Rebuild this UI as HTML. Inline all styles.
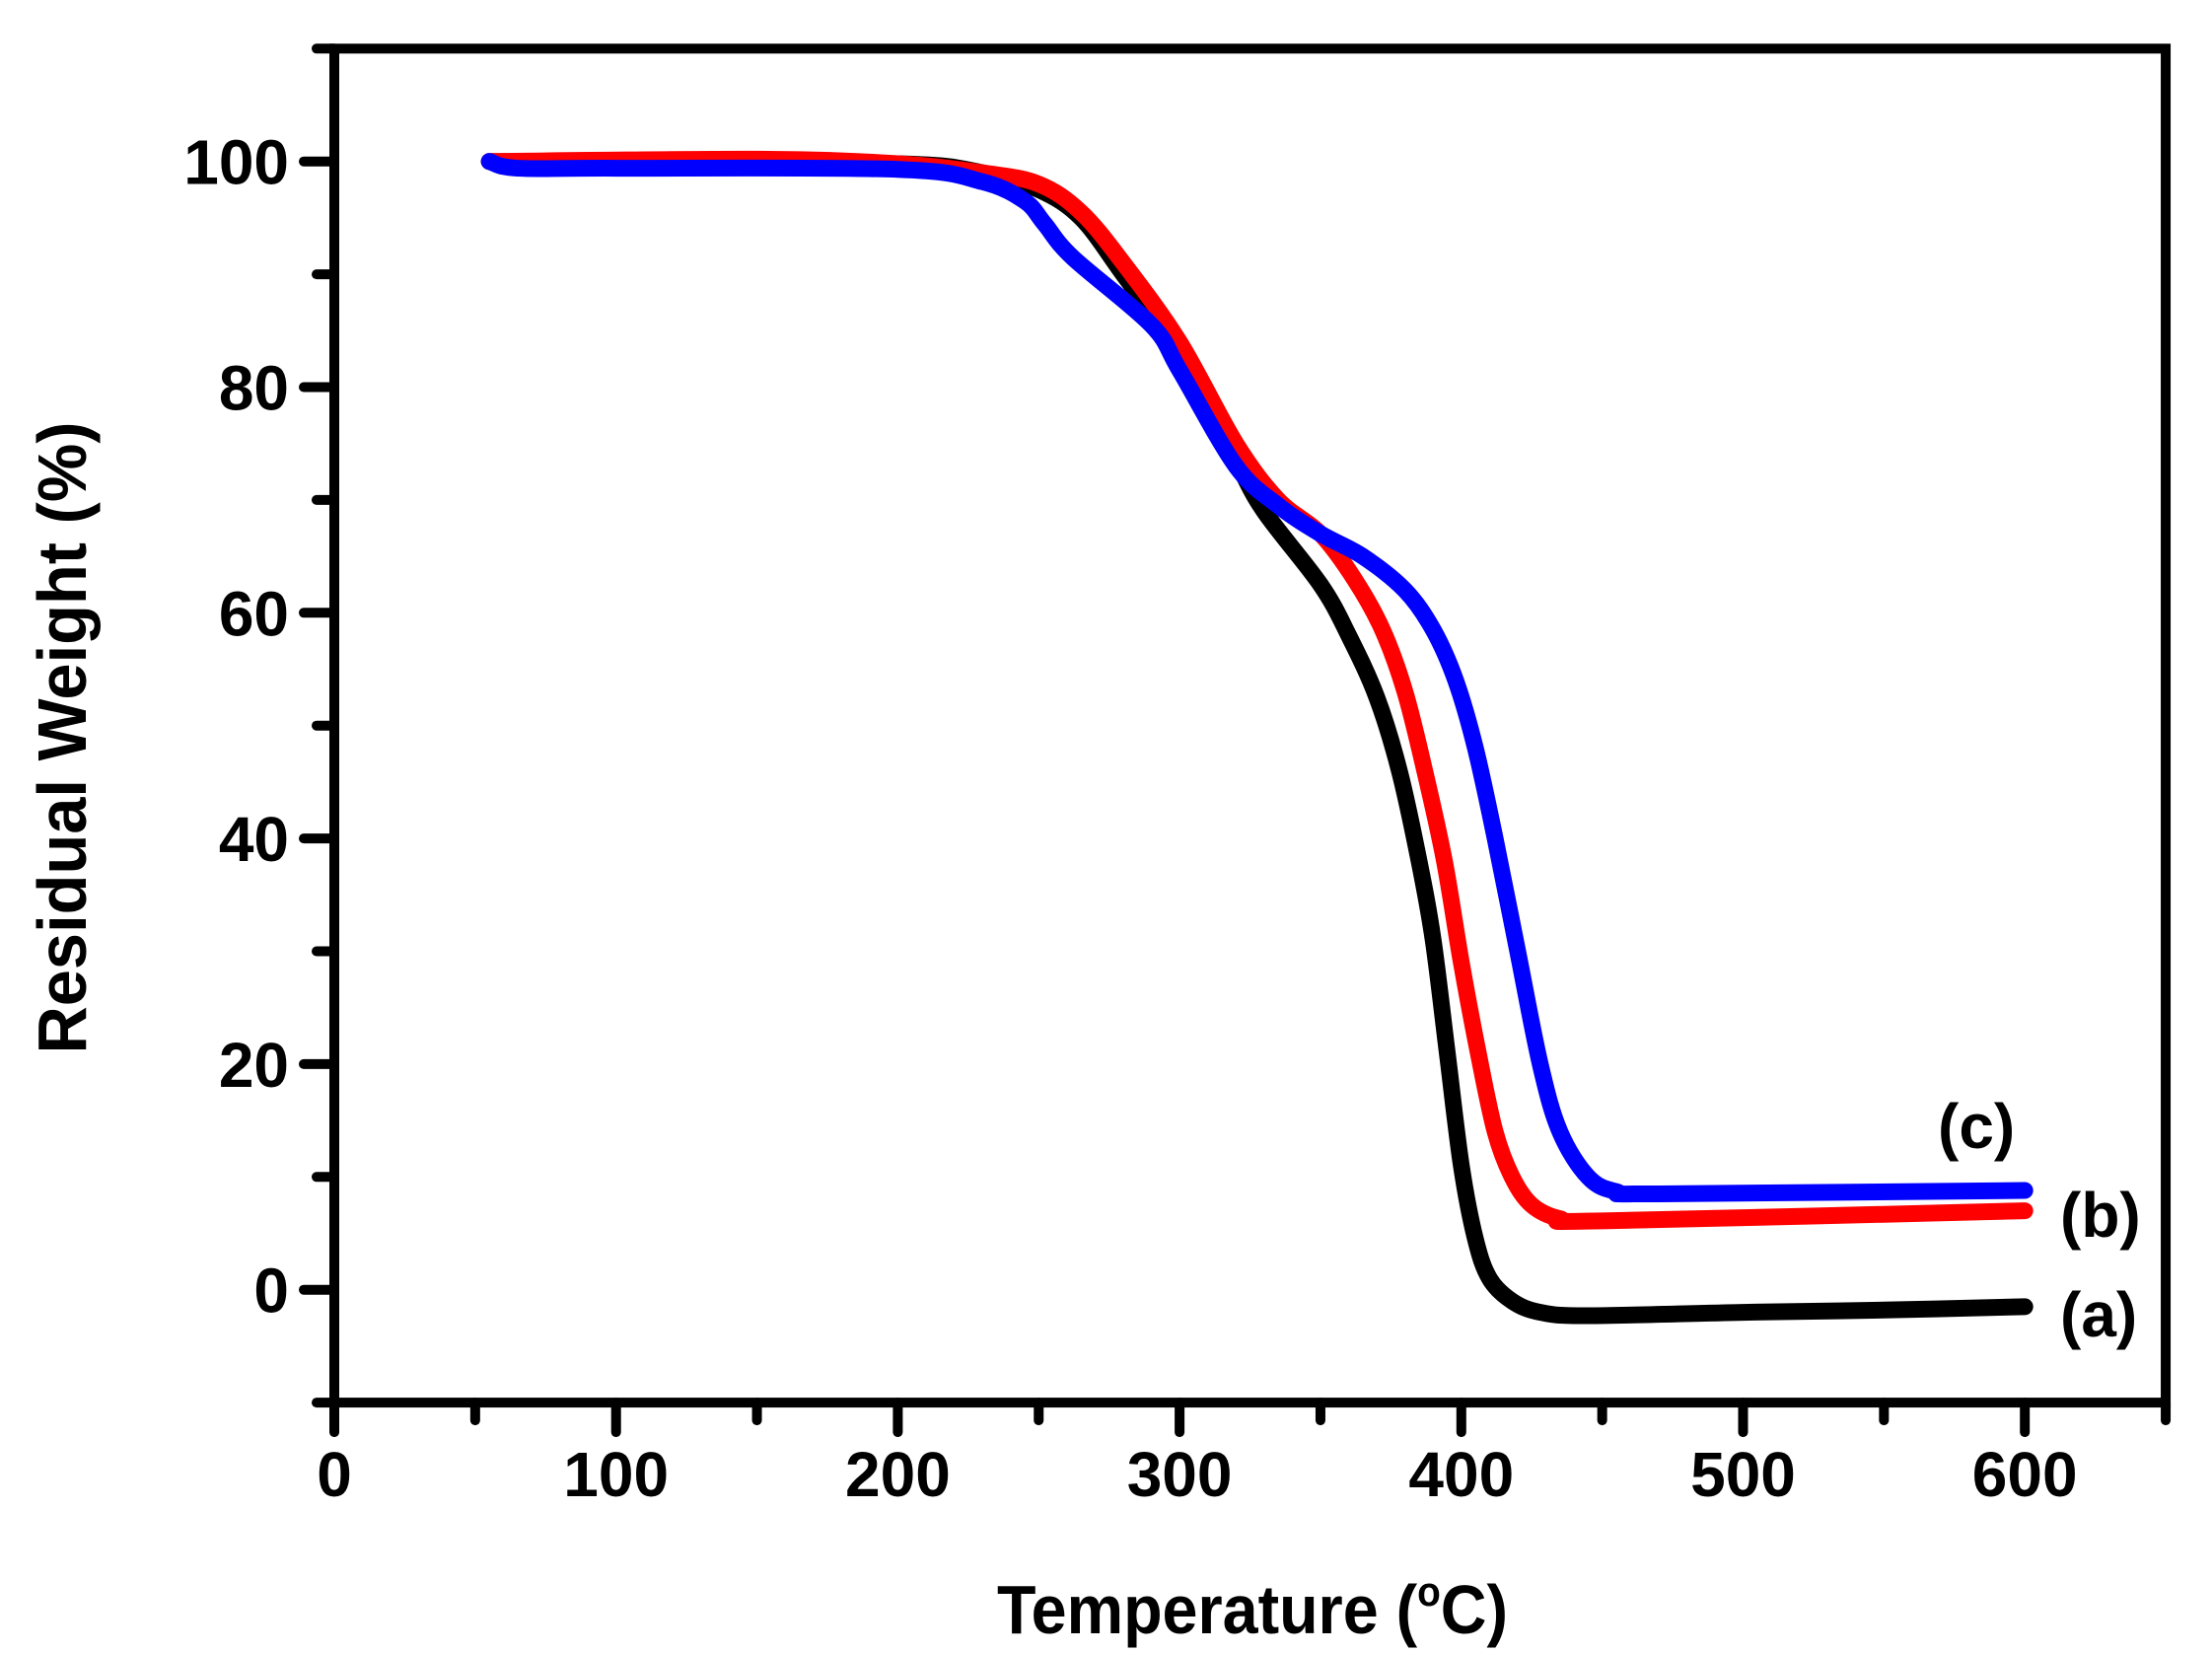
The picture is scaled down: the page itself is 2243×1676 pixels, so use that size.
<!DOCTYPE html>
<html><head><meta charset="utf-8"><style>
html,body{margin:0;padding:0;background:#fff;}
svg{display:block;}
text{font-family:"Liberation Sans",Arial,sans-serif;font-weight:bold;fill:#000;}
</style></head><body>
<svg id="s" width="2243" height="1676" viewBox="0 0 2243 1676" xmlns="http://www.w3.org/2000/svg">
<g id="ax" stroke="#000" stroke-width="10" stroke-linecap="round" fill="none"></g>
<g id="curves" fill="none" stroke-width="17" stroke-linecap="round" stroke-linejoin="round"></g>
<g id="lab" font-size="64"></g>
<text x="1270" y="1656" font-size="70" text-anchor="middle" textLength="518" lengthAdjust="spacingAndGlyphs">Temperature (<tspan font-size="42" dy="-28">o</tspan><tspan dy="28">C)</tspan></text>
<text transform="translate(87,748) rotate(-90)" font-size="70" text-anchor="middle" textLength="641" lengthAdjust="spacingAndGlyphs">Residual Weight (%)</text>
<text x="1965" y="1164" font-size="64">(c)</text>
<text x="2089" y="1254" font-size="64">(b)</text>
<text x="2089" y="1355" font-size="64">(a)</text>
</svg>
<script>
var NS="http://www.w3.org/2000/svg";
function X(t){return 339+t*2.857;}
function Y(v){return 1307.7-11.44*v;}
var ax=document.getElementById('ax'),lab=document.getElementById('lab');
function line(x1,y1,x2,y2){var l=document.createElementNS(NS,'line');l.setAttribute('x1',x1);l.setAttribute('y1',y1);l.setAttribute('x2',x2);l.setAttribute('y2',y2);ax.appendChild(l);}
function txt(x,y,s,a){var t=document.createElementNS(NS,'text');t.setAttribute('x',x);t.setAttribute('y',y);t.setAttribute('text-anchor',a);t.textContent=s;lab.appendChild(t);}
var L=X(0),R=X(650),T=Y(110),B=Y(-10);
var r=document.createElementNS(NS,'rect');r.setAttribute('x',L);r.setAttribute('y',T);r.setAttribute('width',R-L);r.setAttribute('height',B-T);r.setAttribute('stroke-linecap','butt');r.setAttribute('stroke-linejoin','miter');ax.appendChild(r);
line(L,B,L-2,B);
for(var t=0;t<=650;t+=50){var maj=t%100==0;line(X(t),B,X(t),B+(maj?30:18));if(maj)txt(X(t),1517,String(t),'middle');}
for(var v=-10;v<=110;v+=10){var maj=v%20==0&&v>=0&&v<=100;line(L,Y(v),L-(maj?31:18),Y(v));if(maj)txt(293,Y(v)+23,String(v),'end');}
var data={
'#000':[[55,100],[100,99.9],[200,99.8],[230,99],[250,97.5],[265,95],[280,90],[300,83],[320,73.5],[330,69],[350,62.5],[360,58],[370,52.5],[378,46],[385,38],[390,31],[395,21],[400,11],[405,4.5],[410,1],[418,-1],[428,-2],[445,-2.3],[500,-2],[550,-1.8],[600,-1.5]],
'#f00':[[55,100],[150,100.2],[200,99.8],[230,99],[250,98],[265,95.5],[280,91],[300,84],[320,75],[335,70],[350,67],[362,63],[372,58.5],[380,53],[387,46],[394,38],[400,29],[406,21],[412,14],[418,10],[425,7.5],[435,6.3],[450,6.1],[600,7]],
'#00f':[[55,100],[65,99.4],[100,99.4],[200,99.3],[230,98.2],[245,96.5],[252,94.5],[262,91.5],[290,85.5],[300,81.5],[320,73],[335,69.5],[350,67],[365,65],[380,62],[390,58.5],[398,54],[405,48],[412,40],[420,30],[428,20],[435,14],[445,10],[455,8.7],[470,8.5],[600,8.8]]};
var cg=document.getElementById('curves');
for(var c in data){var p=data[c].map(function(d){return [X(d[0]),Y(d[1])];});
var d='M'+p[0][0]+','+p[0][1];
for(var i=0;i<p.length-1;i++){var p0=p[i-1]||p[i],p1=p[i],p2=p[i+1],p3=p[i+2]||p2;
d+=' C'+(p1[0]+(p2[0]-p0[0])/6)+','+(p1[1]+(p2[1]-p0[1])/6)+' '+(p2[0]-(p3[0]-p1[0])/6)+','+(p2[1]-(p3[1]-p1[1])/6)+' '+p2[0]+','+p2[1];}
var pa=document.createElementNS(NS,'path');pa.setAttribute('d',d);pa.setAttribute('stroke',c);cg.appendChild(pa);}
</script>
</body></html>
